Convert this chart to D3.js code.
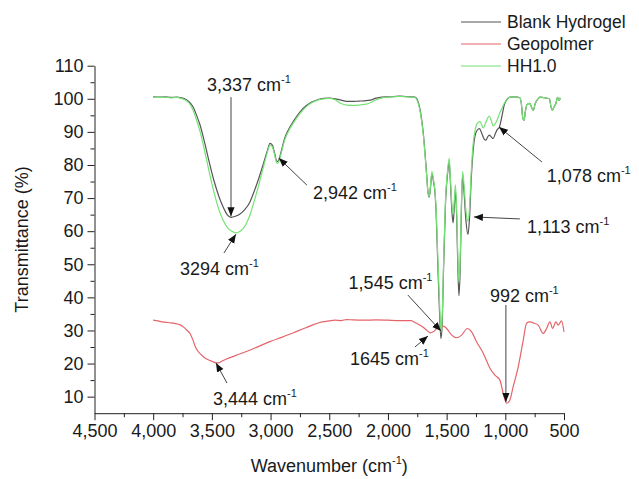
<!DOCTYPE html>
<html>
<head>
<meta charset="utf-8">
<script src="https://cdnjs.cloudflare.com/ajax/libs/d3/7.8.5/d3.min.js"></script>
<style>
  body { margin: 0; background: #fff; }
  svg { display: block; font-family: "Liberation Sans", Arial, sans-serif; }
</style>
</head>
<body>
<svg id="chart"></svg>
<script>
// 1. Data (wavenumber cm-1 -> transmittance %)
const blankWn = [4000,3950,3900,3850,3800,3760,3720,3690,3660,3630,3600,3560,3520,3480,3440,3400,3370,3337,3300,3260,3220,3180,3140,3100,3060,3030,3005,2985,2965,2945,2930,2910,2880,2850,2800,2750,2700,2650,2600,2550,2500,2450,2400,2350,2300,2250,2200,2150,2100,2050,2000,1950,1900,1850,1800,1770,1745,1720,1700,1685,1670,1658,1648,1638,1625,1612,1600,1590,1575,1560,1548,1538,1525,1510,1490,1478,1468,1455,1445,1435,1425,1415,1405,1395,1385,1375,1364,1352,1335,1318,1305,1290,1275,1260,1240,1220,1200,1180,1165,1150,1137,1120,1103,1085,1070,1050,1030,1010,990,960,920,880,865,850,840,830,815,790,775,762,745,725,705,660,625,610,600,585,570,555,540,532];
const blankT = [100.6,100.5,100.6,100.4,100.5,100.3,99.8,99.0,97.5,95,92,86.5,80.5,75,70.5,67,65,64.2,64.5,65.2,66.5,68.5,72,76,80.5,84,86.5,86,83.5,81,81.5,84,88,90.5,93.5,96,97.8,99,99.7,100.1,100.2,100,99.6,99.2,99.2,99.3,99.4,99.6,100.2,100.5,100.6,100.7,100.8,100.7,100.6,100.5,99.3,95.5,90,84,77,71.5,70.3,73,77.5,75,72,66,50,35,27.5,32,50,68,78,81,75,66,62.5,67,72.5,65,50,40.5,48,65,77,72,63,59,64,76,84,88.5,90.5,91,89.5,87.8,87.5,88.5,89,88.5,88,89.5,90.6,91.5,94.5,98,99.6,100.5,100.6,100.4,99,94,93.5,96,98.3,98.6,97.2,96.5,98.6,99.8,100.5,100.3,100,97.5,96.6,97.5,98.5,100.4,99.5,100.3];

const hhWn = [4000,3950,3900,3850,3800,3760,3720,3690,3660,3630,3600,3560,3520,3480,3440,3400,3360,3320,3294,3260,3230,3200,3170,3140,3100,3060,3030,3005,2985,2965,2945,2930,2910,2880,2850,2800,2750,2700,2650,2600,2550,2500,2450,2400,2350,2300,2250,2200,2150,2100,2050,2000,1950,1900,1850,1800,1770,1745,1720,1700,1685,1670,1658,1648,1638,1625,1612,1600,1590,1575,1560,1548,1538,1525,1510,1490,1478,1468,1455,1445,1435,1425,1415,1405,1395,1385,1375,1364,1352,1335,1318,1305,1290,1275,1260,1240,1216,1200,1188,1170,1150,1137,1120,1103,1085,1070,1050,1030,1010,990,960,920,880,865,850,840,830,815,790,775,762,745,725,705,660,625,610,600,585,570,555,540,532];
const hhT = [100.5,100.4,100.5,100.3,100.4,100.1,99.5,98.5,96.5,93.5,90,84,77.5,71.5,66.5,63,60.8,59.8,59.5,60,61,62.8,65.5,69,74,79.5,83.5,86,85.5,83,80.5,81,83.5,87.5,90,93,95.5,97.5,98.8,99.6,100,100.1,99.7,98.6,98.1,98,98.1,98.3,98.8,99.7,100.3,100.5,100.6,100.7,100.6,100.5,100.4,99,95,89.5,83.5,76.5,71.5,70.5,73.5,78,75.5,72.5,67,52,38,29.5,34,52,69,79,82,76,68,65,69,74,67,53,44.5,51,67,78,74,66,63,67,78,86,90,92.5,93.2,92,91.2,92.5,94.2,94.8,93.5,91.8,92.5,93.5,95.5,97,98.6,99.6,100.5,100.6,100.4,99,94,93.5,96,98.3,98.6,97.2,96.5,98.6,99.8,100.5,100.3,100,97.5,96.6,97.5,98.5,100.4,99.5,100.3];

const geoWn = [4000,3950,3900,3850,3800,3770,3740,3710,3685,3660,3640,3620,3600,3570,3540,3500,3460,3444,3420,3380,3300,3200,3100,3000,2900,2800,2700,2640,2560,2500,2450,2400,2350,2300,2200,2100,2000,1900,1800,1785,1727,1700,1670,1642,1614,1572,1529,1500,1457,1415,1372,1324,1287,1245,1188,1131,1089,1046,1018,989,961,933,890,847,819,790,762,719,677,648,620,597,569,549,521,500];
const geoT = [33.1,32.8,32.5,32.3,32,31.7,31,30,29,27,25,23.8,23,22,21.3,20.7,20.2,20.2,20.6,21.3,22.4,23.7,25.2,26.7,28,29.4,30.8,31.7,32.6,32.9,33.1,33,33.3,33.2,33.1,33.2,33.1,33,33,32.7,31.6,31,30.1,29.3,29.6,31,31.3,30.6,28.6,27.8,28.6,30.6,29.6,26.6,23.1,18.6,16.5,15,11,8,9,13,19,27.1,32.2,32.6,32.3,31.6,29.1,30.6,32.6,30.6,32.6,31.6,32.9,29.6];

const seriesNames = ["Blank Hydrogel", "Geopolmer", "HH1.0"];
const seriesColors = ["#555555", "#e4646a", "#74e274"];

// peak labels: label text, arrow tip (wn, T), arrow tail (wn, T), label start (wn, T)
const peakLabels = ["3,337", "2,942", "3294", "3,444", "1,545", "1645", "992", "1,113", "1,078"];
const tipWn   = [3337, 2930, 3295, 3465, 1548, 1659, 995, 1268, 1054];
const tipT    = [64.5, 82.1, 59.1, 20.2, 29.8, 28.3, 8.4, 64.3, 91.5];
const tailWn  = [3337, 2690, 3397, 3371, 1830, 1770, 995, 876, 688];
const tailT   = [100.5, 73.9, 53.4, 14.1, 40.7, 25, 37.7, 63.7, 80.9];
const textWn  = [3542, 2639, 3772, 3491, 2335, 2323, 1131, 816, 646];
const textT   = [102.5, 69.6, 46.9, 7.6, 42.4, 19.7, 38.7, 59.4, 75];

const xTicks = [4500, 4000, 3500, 3000, 2500, 2000, 1500, 1000, 500];
const yTicks = [10, 20, 30, 40, 50, 60, 70, 80, 90, 100, 110];

// 2. Dimensions
const width = 639;
const height = 479;
const margin = { top: 65.7, right: 75, bottom: 65.8, left: 94.5 };

const svg = d3.select("#chart")
    .attr("width", width)
    .attr("height", height);

const x = d3.scaleLinear().domain([4500, 500]).range([margin.left, width - margin.right]);
const y = d3.scaleLinear().domain([5, 110]).range([height - margin.bottom, margin.top]);

// 3. Axes (major + minor ticks)
const xMinor = d3.range(4250, 500, -500);
const yMinor = d3.range(15, 110, 10);

svg.append("g")
    .attr("transform", `translate(0,${y(5)})`)
    .call(d3.axisBottom(x).tickValues(xMinor).tickSize(4).tickFormat(""))
    .call(g => g.select(".domain").remove());
svg.append("g")
    .attr("transform", `translate(${x(4500)},0)`)
    .call(d3.axisLeft(y).tickValues(yMinor).tickSize(4).tickFormat(""))
    .call(g => g.select(".domain").remove());

const xAxis = svg.append("g")
    .attr("transform", `translate(0,${y(5)})`)
    .call(d3.axisBottom(x).tickValues(xTicks).tickSize(7).tickSizeOuter(0).tickPadding(4).tickFormat(d3.format(",")));
const yAxis = svg.append("g")
    .attr("transform", `translate(${x(4500)},0)`)
    .call(d3.axisLeft(y).tickValues(yTicks).tickSize(7).tickSizeOuter(0).tickPadding(4));

svg.selectAll(".tick line, .domain").attr("stroke", "#222").attr("stroke-width", 1);
svg.selectAll(".tick text").attr("font-size", "18px").attr("fill", "#1a1a1a")
    .attr("font-family", "'Liberation Sans', Arial, sans-serif");

// axis titles
svg.append("text")
    .attr("x", (x(4500) + x(500)) / 2)
    .attr("y", 472)
    .attr("text-anchor", "middle")
    .attr("font-size", "18px")
    .attr("fill", "#1a1a1a")
    .call(t => {
        t.append("tspan").text("Wavenumber (cm");
        t.append("tspan").attr("font-size", "11px").attr("dy", -8).text("-1");
        t.append("tspan").attr("dy", 8).text(")");
    });

svg.append("text")
    .attr("transform", `translate(28,${(y(5) + y(110)) / 2}) rotate(-90)`)
    .attr("text-anchor", "middle")
    .attr("font-size", "18px")
    .attr("fill", "#1a1a1a")
    .text("Transmittance (%)");

// 4. Lines
const line = d3.line()
    .x(d => x(d[0]))
    .y(d => y(d[1]))
    .curve(d3.curveMonotoneX);

const seriesData = [
    d3.zip(blankWn, blankT),
    d3.zip(geoWn, geoT),
    d3.zip(hhWn, hhT)
];

seriesData.forEach((pts, i) => {
    svg.append("path")
        .datum(pts)
        .attr("fill", "none")
        .attr("stroke", seriesColors[i])
        .attr("stroke-width", 1.2)
        .attr("d", line);
});

// 5. Annotations
svg.append("defs").append("marker")
    .attr("id", "arrow")
    .attr("viewBox", "0 0 10 10")
    .attr("refX", 10)
    .attr("refY", 5)
    .attr("markerWidth", 9)
    .attr("markerHeight", 9)
    .attr("markerUnits", "userSpaceOnUse")
    .attr("orient", "auto")
    .append("path")
    .attr("d", "M0,1 L10,5 L0,9 Z")
    .attr("fill", "#111");

peakLabels.forEach((lab, i) => {
    svg.append("line")
        .attr("x1", x(tailWn[i])).attr("y1", y(tailT[i]))
        .attr("x2", x(tipWn[i])).attr("y2", y(tipT[i]))
        .attr("stroke", "#444")
        .attr("stroke-width", 1)
        .attr("marker-end", "url(#arrow)");

    const t = svg.append("text")
        .attr("x", x(textWn[i]))
        .attr("y", y(textT[i]))
        .attr("font-size", "18px")
        .attr("fill", "#1a1a1a");
    t.append("tspan").text(`${lab} cm`);
    t.append("tspan").attr("font-size", "11px").attr("dy", -8).text("-1");
});

// 6. Legend
const legend = svg.append("g");
seriesNames.forEach((name, i) => {
    const ly = 22 + i * 22;
    legend.append("line")
        .attr("x1", 461).attr("x2", 501)
        .attr("y1", ly).attr("y2", ly)
        .attr("stroke", seriesColors[i])
        .attr("stroke-width", 1.2);
    legend.append("text")
        .attr("x", 507)
        .attr("y", ly + 6)
        .attr("font-size", "17.5px")
        .attr("fill", "#1a1a1a")
        .text(name);
});
</script>
</body>
</html>
